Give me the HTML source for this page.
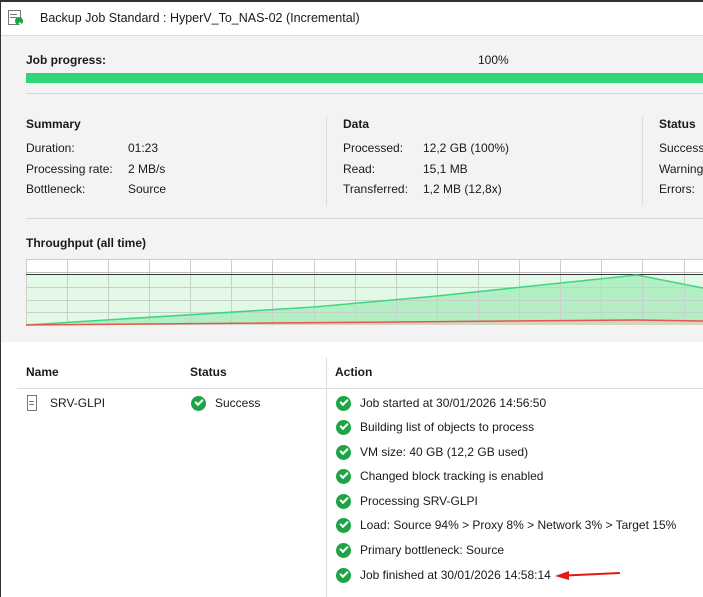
<!DOCTYPE html>
<html><head><meta charset="utf-8"><style>
body{margin:0;width:703px;height:597px;overflow:hidden;background:#fff;font-family:"Liberation Sans",sans-serif;font-size:12px;color:#1a1a1a;position:relative}
.t{position:absolute;line-height:14px;white-space:nowrap}
.b{font-weight:bold}
.ic{position:absolute;width:15px;height:15px;border-radius:50%;background:#1ea446}
.ic:after{content:"";position:absolute;left:4px;top:3px;width:6px;height:3px;border-left:2px solid #fff;border-bottom:2px solid #fff;transform:rotate(-45deg)}
</style></head><body>
<div style="position:absolute;left:0;top:0;width:703px;height:2px;background:#333"></div>
<div style="position:absolute;left:0;top:0;width:1px;height:597px;background:#333"></div>
<div style="position:absolute;left:1px;top:35px;width:702px;height:306px;background:#f2f3f2;border-top:1px solid #ddd"></div>
<!-- title icon -->
<div style="position:absolute;left:8px;top:10px;width:11px;height:13px;border:1px solid #777;background:#fff"></div>
<div style="position:absolute;left:10px;top:14px;width:7px;height:1px;background:#777"></div>
<div style="position:absolute;left:10px;top:17px;width:7px;height:1px;background:#777"></div>
<div class="ic" style="left:15px;top:17px;width:8px;height:8px;background:#1ea446"></div>
<div class="t" style="left:40px;top:11px;font-size:12.5px">Backup Job Standard : HyperV_To_NAS-02 (Incremental)</div>
<div class="t b" style="left:26px;top:53px">Job progress:</div>
<div class="t" style="left:478px;top:53px">100%</div>
<div style="position:absolute;left:26px;top:73px;width:677px;height:10px;background:#2ed677"></div>
<div style="position:absolute;left:26px;top:93px;width:677px;height:1px;background:#d8d8d8"></div>
<div class="t b" style="left:26px;top:117px">Summary</div>
<div class="t" style="left:26px;top:141px">Duration:</div><div class="t" style="left:128px;top:141px">01:23</div>
<div class="t" style="left:26px;top:162px">Processing rate:</div><div class="t" style="left:128px;top:162px">2 MB/s</div>
<div class="t" style="left:26px;top:182px">Bottleneck:</div><div class="t" style="left:128px;top:182px">Source</div>
<div style="position:absolute;left:326px;top:116px;width:1px;height:90px;background:#ddd"></div>
<div class="t b" style="left:343px;top:117px">Data</div>
<div class="t" style="left:343px;top:141px">Processed:</div><div class="t" style="left:423px;top:141px">12,2 GB (100%)</div>
<div class="t" style="left:343px;top:162px">Read:</div><div class="t" style="left:423px;top:162px">15,1 MB</div>
<div class="t" style="left:343px;top:182px">Transferred:</div><div class="t" style="left:423px;top:182px">1,2 MB (12,8x)</div>
<div style="position:absolute;left:642px;top:116px;width:1px;height:90px;background:#ddd"></div>
<div class="t b" style="left:659px;top:117px">Status</div>
<div class="t" style="left:659px;top:141px">Success:</div>
<div class="t" style="left:659px;top:162px">Warnings:</div>
<div class="t" style="left:659px;top:182px">Errors:</div>
<div style="position:absolute;left:26px;top:218px;width:677px;height:1px;background:#d8d8d8"></div>
<div class="t b" style="left:26px;top:236px">Throughput (all time)</div>
<svg style="position:absolute;left:0;top:0" width="703" height="597">
<rect x="26" y="259" width="677" height="66" fill="#fff"/>
<rect x="26" y="275" width="677" height="50" fill="#e3f9e8"/>
<polygon points="26,325 314,307 437,296 637,275 703,288 703,325" fill="#b2efc5"/>
<polygon points="26,325 637,320 703,321 703,325" fill="#d4d6c2"/>
<g stroke="#c9cfca" stroke-width="1">
<line x1="26" y1="287.5" x2="703" y2="287.5"/><line x1="26" y1="300.5" x2="703" y2="300.5"/><line x1="26" y1="312.5" x2="703" y2="312.5"/>
<path d="M26.5 259V325M67.5 259V325M108.5 259V325M149.5 259V325M190.5 259V325M231.5 259V325M272.5 259V325M314.5 259V325M355.5 259V325M396.5 259V325M437.5 259V325M478.5 259V325M519.5 259V325M560.5 259V325M601.5 259V325M642.5 259V325M684.5 259V325"/>
<line x1="26" y1="259.5" x2="703" y2="259.5"/>
</g>
<line x1="26" y1="272.5" x2="703" y2="272.5" stroke="#bbb"/>
<line x1="26" y1="274.5" x2="703" y2="274.5" stroke="#333"/>
<polyline points="26,325 314,307 437,296 637,275 703,288" fill="none" stroke="#3ed681" stroke-width="1.5"/>
<polyline points="26,325 637,320 703,321" fill="none" stroke="#e8544f" stroke-width="1.5"/>
<line x1="620" y1="573" x2="566" y2="575.5" stroke="#e21a1a" stroke-width="2"/>
<polygon points="555,576 569,571 569,580" fill="#e21a1a"/>
</svg>
<div style="position:absolute;left:326px;top:357px;width:1px;height:240px;background:#ddd"></div>
<div class="t b" style="left:26px;top:365px">Name</div>
<div class="t b" style="left:190px;top:365px">Status</div>
<div class="t b" style="left:335px;top:365px">Action</div>
<div style="position:absolute;left:17px;top:388px;width:686px;height:1px;background:#ddd"></div>
<div style="position:absolute;left:27px;top:395px;width:8px;height:14px;border:1px solid #777"></div>
<div style="position:absolute;left:29px;top:401px;width:5px;height:1px;background:#777"></div>
<div style="position:absolute;left:29px;top:404px;width:5px;height:1px;background:#777"></div>
<div class="t" style="left:50px;top:396px">SRV-GLPI</div>
<div class="ic" style="left:191px;top:396px"></div>
<div class="t" style="left:215px;top:396px">Success</div>
<div class="ic" style="left:336px;top:396px"></div><div class="t" style="left:360px;top:396px">Job started at 30/01/2026 14:56:50</div>
<div class="ic" style="left:336px;top:420px"></div><div class="t" style="left:360px;top:420px">Building list of objects to process</div>
<div class="ic" style="left:336px;top:445px"></div><div class="t" style="left:360px;top:445px">VM size: 40 GB (12,2 GB used)</div>
<div class="ic" style="left:336px;top:469px"></div><div class="t" style="left:360px;top:469px">Changed block tracking is enabled</div>
<div class="ic" style="left:336px;top:494px"></div><div class="t" style="left:360px;top:494px">Processing SRV-GLPI</div>
<div class="ic" style="left:336px;top:518px"></div><div class="t" style="left:360px;top:518px">Load: Source 94% &gt; Proxy 8% &gt; Network 3% &gt; Target 15%</div>
<div class="ic" style="left:336px;top:543px"></div><div class="t" style="left:360px;top:543px">Primary bottleneck: Source</div>
<div class="ic" style="left:336px;top:568px"></div><div class="t" style="left:360px;top:568px">Job finished at 30/01/2026 14:58:14</div>
</body></html>
